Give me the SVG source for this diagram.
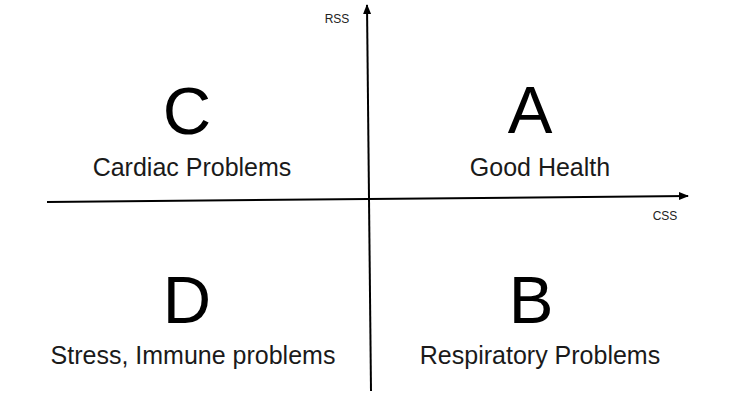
<svg xmlns="http://www.w3.org/2000/svg" width="750" height="400" viewBox="0 0 750 400">
<defs>
<marker id="arr" markerWidth="10" markerHeight="10" refX="9" refY="5" orient="auto" markerUnits="userSpaceOnUse">
<path d="M0,1 L10,5 L0,9 Z" fill="#000"/>
</marker>
<style>
.big{font-family:"Liberation Sans",Arial,sans-serif;font-size:67px;fill:#000;text-anchor:middle}
.lbl{font-family:"Liberation Sans",Arial,sans-serif;font-size:25px;fill:#1a1a1a;text-anchor:middle}
.ax{font-family:"Liberation Sans",Arial,sans-serif;font-size:12px;fill:#222;text-anchor:middle}
.line{stroke:#000;stroke-width:2;fill:none}
</style>
</defs>
<rect width="750" height="400" fill="#fff"/>
<g id="connectors">
<line class="line" x1="47" y1="202" x2="688" y2="196" marker-end="url(#arr)"/>
<line class="line" x1="371" y1="391" x2="367" y2="5" marker-end="url(#arr)"/>
</g>
<g id="axis-rss"><text class="ax" x="337" y="23">RSS</text></g>
<g id="axis-css"><text class="ax" x="665" y="220">CSS</text></g>
<g id="quadrant-c">
<text class="big" x="187" y="134">C</text>
<text class="lbl" x="192" y="176">Cardiac Problems</text>
</g>
<g id="quadrant-a">
<text class="big" x="530" y="133">A</text>
<text class="lbl" x="540" y="176">Good Health</text>
</g>
<g id="quadrant-d">
<text class="big" x="187" y="323">D</text>
<text class="lbl" x="193" y="364">Stress, Immune problems</text>
</g>
<g id="quadrant-b">
<text class="big" x="531" y="323">B</text>
<text class="lbl" x="540" y="364">Respiratory Problems</text>
</g>
</svg>
